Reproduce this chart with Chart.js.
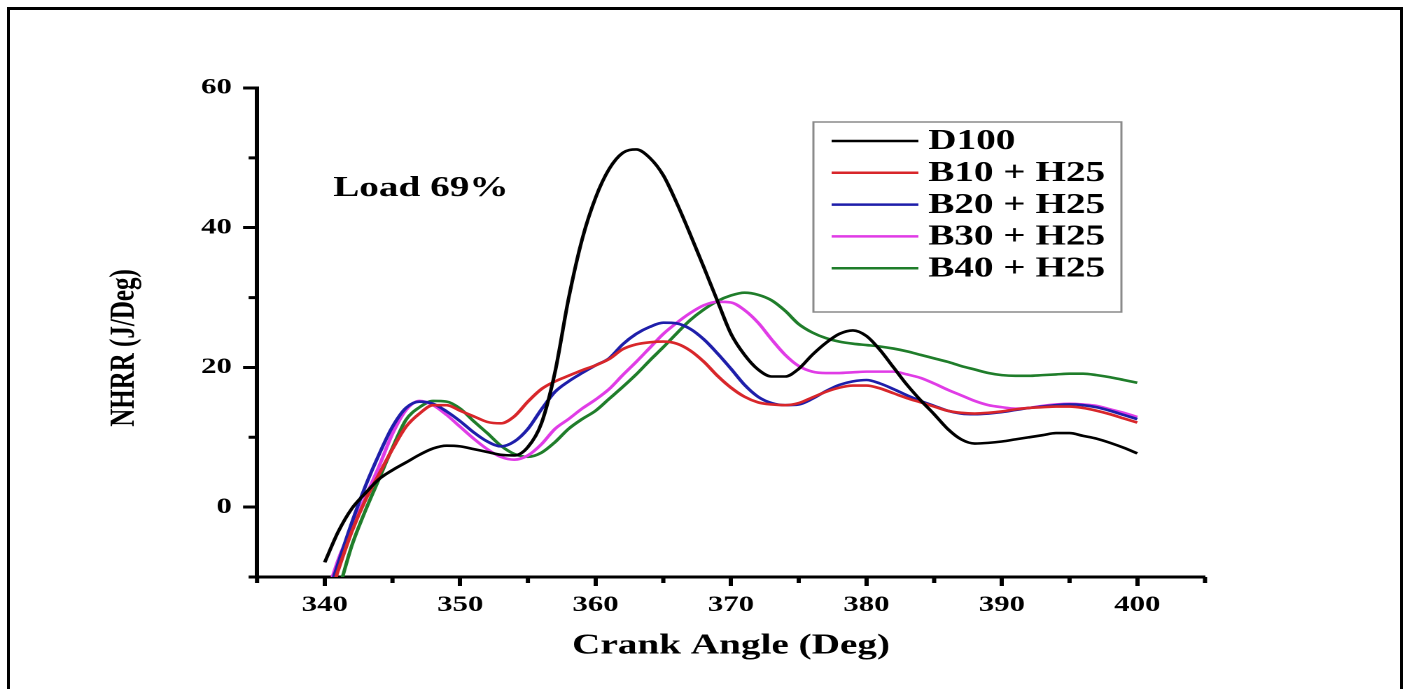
<!DOCTYPE html>
<html>
<head>
<meta charset="utf-8">
<script src="https://cdn.jsdelivr.net/npm/chart.js@4.4.1/dist/chart.umd.min.js"></script>
<style>
    body { margin: 0; background: #fff; overflow: hidden; }
    #frame { position: absolute; left: 7px; top: 7px; width: 1390px; height: 700px; border: 3px solid #000; border-bottom: none; }
    #wrap { position: absolute; left: 0; top: 0; width: 1003px; height: 689px; transform: scaleX(1.4); transform-origin: 0 0; }
</style>
</head>
<body>
<div id="frame"></div>
<div id="wrap"><canvas id="chart" width="1003" height="689"></canvas></div>
<script>
const crankAngle = [340, 341, 342, 343, 344, 345, 346, 347, 348, 349, 350, 351, 352, 353, 354, 355, 356, 357, 358, 359,
    360, 361, 362, 363, 364, 365, 366, 367, 368, 369, 370, 371, 372, 373, 374, 375, 376, 377, 378, 379,
    380, 381, 382, 383, 384, 385, 386, 387, 388, 389, 390, 391, 392, 393, 394, 395, 396, 397, 398, 399, 400];

const d100 = [-7.9, -3.5, -0.2, 2.0, 4.0, 5.3, 6.4, 7.5, 8.4, 8.8, 8.7, 8.3, 7.9, 7.5, 7.4, 8.6, 12.0, 19.3, 29.8, 38.3,
    44.3, 48.4, 50.7, 51.2, 50.0, 47.5, 43.5, 39.0, 34.3, 29.5, 24.8, 21.8, 19.7, 18.7, 18.7, 19.8, 21.8, 23.5, 24.8, 25.3,
    24.5, 22.5, 20.0, 17.5, 15.3, 13.3, 11.2, 9.7, 9.1, 9.2, 9.4, 9.7, 10.0, 10.3, 10.6, 10.6, 10.2, 9.8, 9.2, 8.5, 7.7];

const b10h25 = [-15, -9, -3.5, 1.0, 4.7, 8.3, 11.5, 13.4, 14.6, 14.6, 13.8, 13.0, 12.2, 12.0, 13.0, 15.1, 16.9, 18.0, 18.8, 19.6,
    20.3, 21.2, 22.6, 23.3, 23.6, 23.7, 23.4, 22.4, 20.8, 18.8, 17.1, 15.8, 15.0, 14.7, 14.6, 14.9, 15.7, 16.5, 17.1, 17.4,
    17.4, 17.0, 16.3, 15.6, 15.0, 14.4, 13.8, 13.5, 13.4, 13.5, 13.7, 14.0, 14.2, 14.3, 14.4, 14.4, 14.2, 13.8, 13.3, 12.7, 12.1];

const b20h25 = [-14, -8, -2.2, 3.0, 7.5, 11.5, 14.2, 15.1, 14.8, 13.7, 12.3, 10.7, 9.4, 8.7, 9.4, 11.2, 14.0, 16.5, 18.0, 19.2,
    20.3, 21.3, 23.3, 24.8, 25.8, 26.4, 26.3, 25.5, 24.0, 22.0, 19.8, 17.5, 15.8, 14.9, 14.6, 14.7, 15.5, 16.6, 17.5, 18.0,
    18.2, 17.7, 16.9, 16.0, 15.2, 14.5, 13.8, 13.4, 13.3, 13.4, 13.6, 13.9, 14.2, 14.4, 14.6, 14.7, 14.6, 14.3, 13.8, 13.2, 12.6];

const b30h25 = [-13.5, -7.5, -3.0, 1.4, 5.8, 10.5, 13.9, 15.2, 14.6, 13.2, 11.5, 9.8, 8.3, 7.2, 6.8, 7.4, 9.0, 11.2, 12.6, 14.1,
    15.4, 16.9, 18.9, 20.8, 22.8, 24.8, 26.4, 27.8, 28.9, 29.4, 29.3, 28.2, 26.4, 24.0, 21.8, 20.2, 19.4, 19.2, 19.2, 19.3,
    19.4, 19.4, 19.4, 19.0, 18.5, 17.7, 16.8, 16.0, 15.2, 14.6, 14.3, 14.1, 14.2, 14.5, 14.7, 14.8, 14.7, 14.5, 14.0, 13.5, 12.9];

const b40h25 = [-17.5, -12, -5.5, -0.5, 4.0, 8.5, 12.5, 14.3, 15.2, 15.1, 14.1, 12.3, 10.6, 8.8, 7.6, 7.2, 7.8, 9.3, 11.2, 12.6,
    13.8, 15.5, 17.2, 19.0, 21.0, 22.9, 24.9, 26.8, 28.3, 29.5, 30.3, 30.7, 30.4, 29.6, 28.1, 26.2, 25.0, 24.2, 23.7, 23.4,
    23.2, 23.0, 22.7, 22.3, 21.8, 21.3, 20.8, 20.2, 19.7, 19.2, 18.9, 18.8, 18.8, 18.9, 19.0, 19.1, 19.1, 18.9, 18.6, 18.2, 17.8];

const seriesNames = ["D100", "B10 + H25", "B20 + H25", "B30 + H25", "B40 + H25"];
const seriesColors = ["#000000", "#d8262a", "#1e1eaa", "#e03ce6", "#1f7d2a"];
const xTickLabels = [340, 350, 360, 370, 380, 390, 400];
const yTickLabels = [0, 20, 40, 60];

const FONT = "'Liberation Serif', 'Times New Roman', serif";

function toPoints(values) {
    return values.map((v, i) => ({ x: crankAngle[i], y: v }));
}

// legend box, annotation, minor ticks and the y title
const extras = {
    id: "extras",
    afterDraw(chart) {
        const ctx = chart.ctx;
        const xs = chart.scales.x;
        const ys = chart.scales.y;
        ctx.save();

        ctx.strokeStyle = "#000";
        ctx.lineWidth = 3;
        ctx.beginPath();
        for (let v = 335; v <= 405; v += 10) {
            const px = xs.getPixelForValue(v);
            ctx.moveTo(px, xs.top);
            ctx.lineTo(px, xs.top + 6);
        }
        for (let v = -10; v <= 50; v += 20) {
            const py = ys.getPixelForValue(v);
            ctx.moveTo(ys.right, py);
            ctx.lineTo(ys.right - 6, py);
        }
        ctx.stroke();

        ctx.fillStyle = "#000";
        ctx.font = "bold 28px " + FONT;
        ctx.textAlign = "left";
        ctx.textBaseline = "middle";
        ctx.fillText("Load 69%", 238, 189);

        ctx.save();
        ctx.translate(89, 348);
        ctx.rotate(-Math.PI / 2);
        ctx.textAlign = "center";
        ctx.font = "bold 25px " + FONT;
        ctx.fillText("NHRR (J/Deg)", 0, 0);
        ctx.restore();

        ctx.strokeStyle = "#8a8a8a";
        ctx.lineWidth = 1.5;
        ctx.strokeRect(581, 122, 220, 190);

        ctx.font = "bold 28px " + FONT;
        chart.data.datasets.forEach((ds, i) => {
            const y = 141 + i * 31.8;
            ctx.strokeStyle = ds.borderColor;
            ctx.lineWidth = 2.5;
            ctx.beginPath();
            ctx.moveTo(594, y);
            ctx.lineTo(656, y);
            ctx.stroke();
            ctx.fillText(ds.label, 663, y + 1);
        });
        ctx.restore();
    }
};

const datasets = [d100, b10h25, b20h25, b30h25, b40h25].map((values, i) => ({
    label: seriesNames[i],
    data: toPoints(values),
    borderColor: seriesColors[i],
    backgroundColor: seriesColors[i],
    borderWidth: 2.6,
    pointRadius: 0,
    cubicInterpolationMode: "monotone",
}));

const ctx = document.getElementById("chart").getContext("2d");
window.myChart = new Chart(ctx, {
    type: "line",
    data: { datasets: datasets },
    plugins: [extras],
    options: {
        responsive: false,
        devicePixelRatio: 2,
        animation: false,
        layout: { padding: { top: 88, right: 142.3, bottom: 0, left: 0 } },
        plugins: { legend: { display: false }, tooltip: { enabled: false } },
        scales: {
            x: {
                type: "linear",
                min: 335,
                max: 405,
                afterFit: (scale) => { scale.height = 112; },
                border: { display: true, color: "#000", width: 3 },
                grid: {
                    drawOnChartArea: false,
                    tickLength: 9,
                    tickColor: "#000",
                    tickWidth: (c) => xTickLabels.includes(c.tick.value) ? 3 : 0,
                },
                ticks: {
                    stepSize: 5,
                    padding: 6,
                    maxRotation: 0,
                    autoSkip: false,
                    color: "#000",
                    font: { family: FONT, size: 22, weight: "bold" },
                    callback: (v) => xTickLabels.includes(v) ? String(v) : "",
                },
                title: {
                    display: true,
                    text: "Crank Angle (Deg)",
                    color: "#000",
                    font: { family: FONT, size: 28, weight: "bold" },
                    padding: { top: 0, bottom: 26 },
                },
            },
            y: {
                min: -10,
                max: 60,
                afterFit: (scale) => { scale.width = 183.6; },
                border: { display: true, color: "#000", width: 3 },
                grid: {
                    drawOnChartArea: false,
                    tickLength: 10,
                    tickColor: "#000",
                    tickWidth: (c) => yTickLabels.includes(c.tick.value) ? 3 : 0,
                },
                ticks: {
                    stepSize: 10,
                    padding: 8,
                    autoSkip: false,
                    color: "#000",
                    font: { family: FONT, size: 22, weight: "bold" },
                    callback: (v) => yTickLabels.includes(v) ? String(v) : "",
                },
            },
        },
    },
});
</script>
</body>
</html>
